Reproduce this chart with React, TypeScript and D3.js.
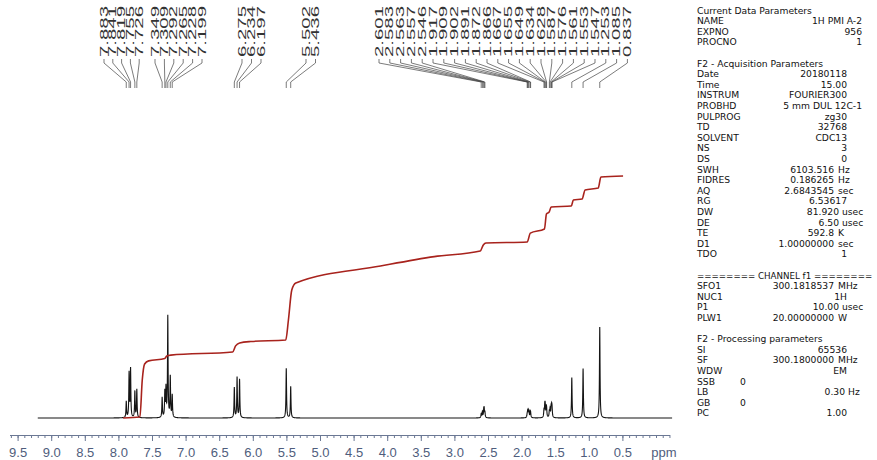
import React, { useEffect, useMemo, useRef } from "react";
import * as d3 from "d3";

const W = 877;
const H = 460;
const FONT = "'Liberation Sans', Arial, Helvetica, sans-serif";
const PANEL_FONT = "'DejaVu Sans', 'Liberation Sans', sans-serif";

// peak list (ppm) and line heights
const peakShifts = [
  7.883, 7.841, 7.819, 7.755, 7.726, 7.349, 7.309, 7.292, 7.265, 7.228, 7.199,
  6.275, 6.234, 6.197, 5.502, 5.436, 2.601, 2.583, 2.563, 2.557, 2.546, 1.917,
  1.909, 1.902, 1.891, 1.872, 1.866, 1.667, 1.655, 1.649, 1.634, 1.628, 1.587,
  1.576, 1.561, 1.553, 1.547, 1.253, 1.085, 0.837,
];
const peakHeights = [
  16, 44, 48, 26, 28, 20, 25, 28, 100, 40, 22, 30, 40, 38, 49, 31, 4, 6, 7, 7,
  5, 3, 5, 6, 6, 5, 4, 7, 10, 10, 8, 7, 6, 8, 9, 9, 8, 40, 49, 90,
];

// integral trace: shift (ppm) and running integral (0..100)
const integralPpm = [
  7.93, 7.68, 7.645, 7.61, 7.55, 7.31, 7.28, 7.22, 6.3, 6.256, 6.196, 6.03,
  5.51, 5.47, 5.42, 5.36, 4.1, 3.3, 2.615, 2.57, 2.53, 1.917, 1.87, 1.66, 1.63,
  1.59, 1.56, 1.26, 1.23, 1.1, 1.055, 0.86, 0.82, 0.49,
];
const integralValues = [
  0, 0.4, 15.7, 22.3, 23.6, 24.6, 25.6, 26, 27.3, 29.8, 31, 31.6, 32.2, 40.5,
  52.9, 55.8, 62.8, 66.7, 69, 71.5, 72.3, 72.7, 76.4, 78.1, 84.3, 85.1, 87.2,
  87.6, 90.1, 90.5, 94.2, 95, 99.6, 100,
];

const majorTicks = [9.5, 9.0, 8.5, 8.0, 7.5, 7.0, 6.5, 6.0, 5.5, 5.0, 4.5, 4.0, 3.5, 3.0, 2.5, 2.0, 1.5, 1.0, 0.5];

// parameter block
const paramLabels = [
  "Current Data Parameters", "NAME", "EXPNO", "PROCNO", "",
  "F2 - Acquisition Parameters", "Date", "Time", "INSTRUM", "PROBHD", "PULPROG",
  "TD", "SOLVENT", "NS", "DS", "SWH", "FIDRES", "AQ", "RG", "DW", "DE", "TE",
  "D1", "TDO", "", "======== CHANNEL f1 ========", "SFO1", "NUC1", "P1", "PLW1",
  "", "F2 - Processing parameters", "SI", "SF", "WDW", "SSB", "LB", "GB", "PC",
];
const paramValues = [
  "", "1H PMI A-2", "956", "1", "",
  "", "20180118", "15.00", "FOURIER300", "5 mm DUL 12C-1", "zg30",
  "32768", "CDC13", "3", "0", "6103.516", "0.186265", "2.6843545", "6.53617", "81.920", "6.50", "592.8",
  "1.00000000", "1", "", "", "300.1818537", "1H", "10.00", "20.00000000",
  "", "", "65536", "300.1800000", "EM", "0", "0.30", "0", "1.00",
];
const paramUnits = [
  "", "", "", "", "",
  "", "", "", "", "", "",
  "", "", "", "", "Hz", "Hz", "sec", "", "usec", "usec", "K",
  "sec", "", "", "", "MHz", "", "usec", "W",
  "", "", "", "MHz", "", "", "Hz", "", "",
];

// label groups (index ranges into peakShifts) for the peak-pick annotations
const labelGroups = [
  { from: 0, to: 5, start: 104, step: 8.8 },
  { from: 5, to: 11, start: 155, step: 9.4 },
  { from: 11, to: 14, start: 242, step: 9.5 },
  { from: 14, to: 16, start: 306, step: 9.5 },
  { from: 16, to: 40, start: 379, step: 10.8 },
];

const PX_PER_PPM = 67.2;
const ZERO_X = 656;
const HW = 0.005;

function valuePos(label: string, hasUnit: boolean): [number, "start" | "end", number] {
  if (["NAME", "EXPNO", "PROCNO", "PROBHD"].includes(label)) return [862, "end", 0];
  if (label === "SSB" || label === "GB") return [740, "start", 0];
  if (["DW", "DE", "P1"].includes(label)) return [839, "end", 842];
  if (label === "LB") return [845, "end", 848];
  if (hasUnit) return [834, "end", 838];
  return [847, "end", 0];
}

export default function App() {
  const axisRef = useRef<SVGGElement>(null);

  const x = d3
    .scaleLinear()
    .domain([9.62, -0.2])
    .range([ZERO_X - PX_PER_PPM * 9.62, ZERO_X + PX_PER_PPM * 0.2]);
  const y = d3.scaleLinear().domain([0, 100]).range([418, 317]);
  const yInt = d3.scaleLinear().domain([0, 100]).range([418, 176]);

  const spectrumPath = useMemo(() => {
    const grid = d3
      .range(9.2, -0.24, -0.0015)
      .concat(peakShifts)
      .sort((a, b) => b - a);
    const pts: [number, number][] = grid.map((p) => [
      p,
      d3.sum(peakShifts, (s, i) => (peakHeights[i] * HW * HW) / ((p - s) ** 2 + HW * HW)),
    ]);
    return d3
      .line<[number, number]>()
      .x((d) => x(d[0]))
      .y((d) => y(d[1]))(pts);
  }, []);

  const integralPath = d3
    .line<number>()
    .x((d, i) => x(integralPpm[i]))
    .y((d) => yInt(d))
    .curve(d3.curveMonotoneX)(integralValues);

  useEffect(() => {
    const g = d3.select(axisRef.current);
    g.selectAll("*").remove();
    const minor = d3.range(96, -3, -1).map((v) => v / 10);
    g.append("g").call(
      d3.axisBottom(x).tickValues(minor).tickSize(3).tickFormat(() => "").tickSizeOuter(0)
    );
    g.append("g").call(
      d3
        .axisBottom(x)
        .tickValues(majorTicks)
        .tickSize(6)
        .tickPadding(7)
        .tickSizeOuter(0)
        .tickFormat((d) => d3.format(".1f")(d as number))
    );
    g.selectAll("path,line").attr("stroke", "#6b7894").attr("stroke-width", 1);
    g.selectAll("text")
      .attr("fill", "#4f5d7c")
      .style("font-family", FONT)
      .style("font-size", "13px");
  }, []);

  const labels = labelGroups.flatMap((grp) =>
    d3.range(grp.from, grp.to).map((i, k) => {
      const lx = grp.start + k * grp.step;
      const px = x(peakShifts[i]);
      return (
        <g key={i}>
          <text
            transform={`translate(${lx + 3.5}, 57) rotate(-90)`}
            textAnchor="start"
            fontFamily={FONT}
            fontSize={10}
            textLength={51}
            lengthAdjust="spacingAndGlyphs"
            fill="#333"
          >
            {peakShifts[i].toFixed(3)}
          </text>
          <polyline
            points={`${lx},59 ${lx},63 ${px},82 ${px},88`}
            fill="none"
            stroke="#444"
            strokeWidth={0.7}
          />
        </g>
      );
    })
  );

  const params = paramLabels.map((lab, i) => {
    const yy = 13.5 + i * 10.6;
    const val = paramValues[i];
    const unit = paramUnits[i];
    const [vx, anchor, ux] = valuePos(lab, unit !== "");
    // the channel separator runs right up to the page edge
    const sep = lab.startsWith("====");
    return (
      <g key={i}>
        <text x={697} y={yy} fontSize={sep ? 8.7 : undefined}>{lab}</text>
        {val && (
          <text x={vx} y={yy} textAnchor={anchor}>
            {val}
          </text>
        )}
        {unit && (
          <text x={ux} y={yy}>
            {unit}
          </text>
        )}
      </g>
    );
  });

  return (
    <div style={{ position: "absolute", left: 0, top: 0 }}>
      <svg width={W} height={H} style={{ display: "block", background: "#fff" }}>
        {labels}
        <path d={spectrumPath ?? ""} fill="none" stroke="#151515" strokeWidth={1.1} />
        <path d={integralPath ?? ""} fill="none" stroke="#a8231d" strokeWidth={1.6} />
        <g ref={axisRef} transform="translate(0, 435)" />
        <text
          x={x(0) + 8}
          y={457}
          textAnchor="middle"
          fontFamily={FONT}
          fontSize={13}
          fill="#4f5d7c"
        >
          ppm
        </text>
        <g fontFamily={PANEL_FONT} fontSize={9.2} fill="#111">
          {params}
        </g>
      </svg>
    </div>
  );
}
